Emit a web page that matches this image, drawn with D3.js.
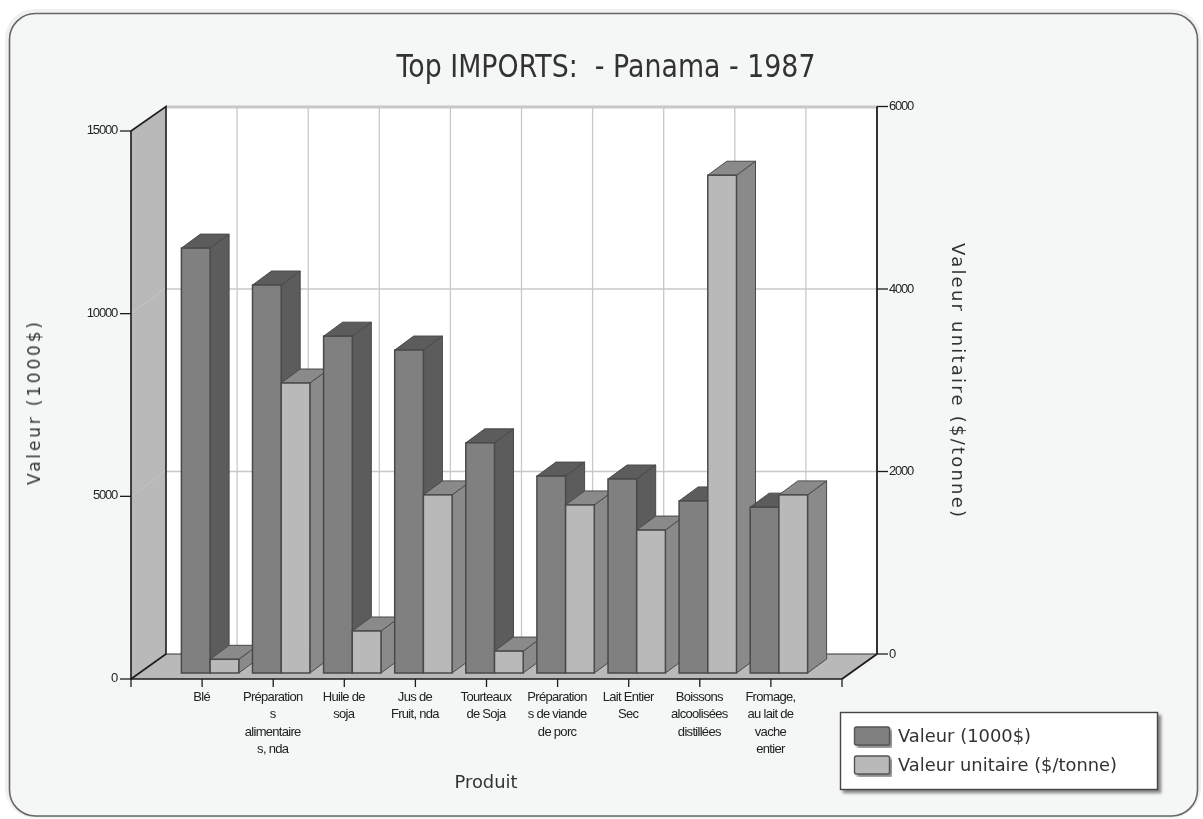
<!DOCTYPE html>
<html><head><meta charset="utf-8">
<script src="https://cdn.jsdelivr.net/npm/d3@7/dist/d3.min.js"></script>
<style>html,body{margin:0;padding:0;background:#fff}svg{display:block}</style>
</head><body><svg id="c" width="1203" height="819"></svg>
<script>
const titleText = "Top IMPORTS:  - Panama - 1987";
const categories = [["Blé"],["Préparation","s","alimentaire","s, nda"],["Huile de","soja"],["Jus de","Fruit, nda"],["Tourteaux","de Soja"],["Préparation","s de viande","de porc"],["Lait Entier","Sec"],["Boissons","alcoolisées","distillées"],["Fromage,","au lait de","vache","entier"]];
const valeur = [11630,10620,9220,8840,6300,5390,5310,4710,4540];
const unitaire = [150,3175,460,1950,240,1840,1565,5450,1950];
const leftTicks = [0,5000,10000,15000];
const rightTicks = [0,2000,4000,6000];
const legendLabels = ["Valeur (1000$)","Valeur unitaire ($/tonne)"];

const svg = d3.select("#c");
const defs = svg.append("defs");
defs.append("filter").attr("id","soft").attr("x","-5%").attr("y","-20%").attr("width","110%").attr("height","140%")
  .append("feGaussianBlur").attr("stdDeviation",0.5);
const sh = defs.append("filter").attr("id","shadow").attr("x","-5%").attr("y","-10%").attr("width","110%").attr("height","125%");
sh.append("feDropShadow").attr("dx",3).attr("dy",3).attr("stdDeviation",1.5).attr("flood-color","#555").attr("flood-opacity",0.7);

const dxWall=35, dyWall=-26;
const x = d3.scaleLinear().domain([0,10]).range([131,842]);
const yL = d3.scaleLinear().domain([0,15000]).range([679,131]);
const yR = d3.scaleLinear().domain([0,6000]).range([654,106.5]);
const yLb = d3.scaleLinear().domain([0,15000]).range([673,125]);
const yRb = d3.scaleLinear().domain([0,6000]).range([673,125]);
const barW=28.7, depX=19, depY=-14, barShift=8;

svg.append("rect").attr("x",5).attr("y",9).attr("width",1196).attr("height",809).attr("rx",30).attr("fill","#f0f0f0").attr("filter","url(#soft)");
svg.append("rect").attr("x",9.5).attr("y",13.5).attr("width",1188).attr("height",802.5).attr("rx",26)
  .attr("fill","#f4f7f6").attr("stroke","#666").attr("stroke-width",1.6).attr("filter","url(#soft)");

const plot = svg.append("g").attr("filter","url(#soft)");
plot.append("rect").attr("x",x(0)+dxWall).attr("y",yR(6000)).attr("width",x(10)-x(0)).attr("height",yR(0)-yR(6000)).attr("fill","#fff");
const wx0=x(0), wx1=x(10);
plot.append("path").attr("d",d3.line()([[wx0,yL(15000)],[wx0+dxWall,yR(6000)],[wx0+dxWall,yR(0)],[wx0,yL(0)]])+"Z").attr("fill","#b9b9b9");
plot.append("path").attr("d",d3.line()([[wx0,yL(0)],[wx0+dxWall,yR(0)],[wx1+dxWall,yR(0)],[wx1,yL(0)]])+"Z").attr("fill","#b9b9b9");
d3.range(1,10).forEach(i=>plot.append("line").attr("x1",x(i)+dxWall).attr("x2",x(i)+dxWall).attr("y1",yR(6000)).attr("y2",yR(0)).attr("stroke","#c8c8c8").attr("stroke-width",1.3));
rightTicks.slice(1).forEach(t=>plot.append("line").attr("x1",x(0)+dxWall).attr("x2",x(10)+dxWall).attr("y1",t===6000?yR(t)+0.5:yR(t)).attr("y2",t===6000?yR(t)+0.5:yR(t)).attr("stroke","#c8c8c8").attr("stroke-width",t===6000?3:1.3));
leftTicks.slice(1,3).forEach(t=>plot.append("path").attr("d",`M${wx0},${yL(t)}L${wx0+dxWall},${yL(t)+dyWall}`).attr("stroke","#c4c4c4").attr("fill","none"));
const ax = plot.append("g").attr("stroke","#1c1c1c").attr("fill","none");
ax.append("path").attr("stroke-width",1.6).attr("d",`M${wx0},${yL(15000)}V${yL(0)}H${wx1}`);
ax.append("path").attr("stroke-width",1.6).attr("d",`M${wx0},${yL(15000)}L${wx0+dxWall},${yR(6000)}V${yR(0)}L${wx0},${yL(0)}`);
ax.append("path").attr("stroke-width",1.8).attr("d",`M${wx1+dxWall},${yR(6000)}V${yR(0)}L${wx1},${yL(0)}`);
ax.append("path").attr("stroke-width",1).attr("d",`M${wx0+dxWall},${yR(0)}H${wx1+dxWall}`).attr("stroke","#333");
leftTicks.forEach(t=>ax.append("line").attr("x1",wx0-11).attr("x2",wx0).attr("y1",yL(t)).attr("y2",yL(t)).attr("stroke-width",1.3));
rightTicks.forEach(t=>ax.append("line").attr("x1",wx1+dxWall).attr("x2",wx1+dxWall+11).attr("y1",yR(t)).attr("y2",yR(t)).attr("stroke-width",1.3));
d3.range(0,11).forEach(i=>ax.append("line").attr("x1",x(i)).attr("x2",x(i)).attr("y1",yL(0)).attr("y2",yL(0)+8).attr("stroke-width",1.3));

function bar(g,bx,yTop,yBase,front,dark){
  const st="#4a4a4a";
  g.append("path").attr("d",d3.line()([[bx+barW,yTop],[bx+barW+depX,yTop+depY],[bx+barW+depX,yBase+depY],[bx+barW,yBase]])+"Z").attr("fill",dark).attr("stroke",st);
  g.append("path").attr("d",d3.line()([[bx,yTop],[bx+depX,yTop+depY],[bx+barW+depX,yTop+depY],[bx+barW,yTop]])+"Z").attr("fill",dark).attr("stroke",st);
  g.append("rect").attr("x",bx).attr("y",yTop).attr("width",barW).attr("height",yBase-yTop).attr("fill",front).attr("stroke",st).attr("stroke-width",1.5);
}
const bg = plot.append("g");
categories.forEach((c,i)=>{
  const center = x(i+1)+barShift;
  bar(bg,center-barW,yLb(valeur[i]),yLb(0),"#808080","#5c5c5c");
  bar(bg,center,yRb(unitaire[i]),yRb(0),"#b9b9b9","#8a8a8a");
});

const txt = svg.append("g").attr("fill","#222").attr("font-family","'Liberation Sans',Arial,sans-serif").attr("filter","url(#soft)");
leftTicks.forEach(t=>txt.append("text").attr("x",117).attr("y",yL(t)+3).attr("text-anchor","end").attr("font-size",13).attr("letter-spacing",-1.2).text(t));
rightTicks.forEach(t=>txt.append("text").attr("x",889).attr("y",yR(t)+3.5).attr("font-size",13).attr("letter-spacing",-1.2).text(t));
categories.forEach((lines,i)=>{
  lines.forEach((l,j)=>txt.append("text").attr("x",x(i+1)-0.5).attr("y",701+j*17.4).attr("text-anchor","middle").attr("font-size",13).attr("letter-spacing",-0.7).text(l));
});
const big = svg.append("g").attr("fill","#333").attr("font-family","'DejaVu Sans',sans-serif").attr("filter","url(#soft)");
big.append("text").attr("x",606).attr("y",77).attr("text-anchor","middle").attr("font-size",32).attr("textLength",419).attr("lengthAdjust","spacingAndGlyphs").attr("xml:space","preserve").text(titleText);
big.append("text").attr("transform","translate(40,403.5) rotate(-90)").attr("text-anchor","middle").attr("font-size",17).attr("textLength",163).text(legendLabels[0]);
big.append("text").attr("transform","translate(952,380) rotate(90)").attr("text-anchor","middle").attr("font-size",18).attr("textLength",274).text(legendLabels[1]);
big.append("text").attr("x",486).attr("y",788).attr("text-anchor","middle").attr("font-size",18).attr("textLength",63).attr("lengthAdjust","spacingAndGlyphs").text("Produit");

const lg = svg.append("g");
lg.append("rect").attr("x",840.5).attr("y",712.5).attr("width",317).attr("height",77).attr("fill","#fff").attr("stroke","#444").attr("stroke-width",1.4).attr("filter","url(#shadow)");
const fills=["#808080","#b9b9b9"], lys=[727,756];
legendLabels.forEach((l,i)=>{
  lg.append("rect").attr("x",854.5).attr("y",lys[i]).attr("width",35).attr("height",18).attr("rx",2).attr("fill",fills[i]).attr("stroke","#555").attr("stroke-width",1.4).attr("filter","url(#shadow)");
  lg.append("text").attr("x",898).attr("y",lys[i]+15).attr("font-family","'DejaVu Sans',sans-serif").attr("font-size",18.5).attr("fill","#333").attr("filter","url(#soft)").attr("textLength",i?219:133).attr("lengthAdjust","spacingAndGlyphs").text(l);
});
</script></body></html>
